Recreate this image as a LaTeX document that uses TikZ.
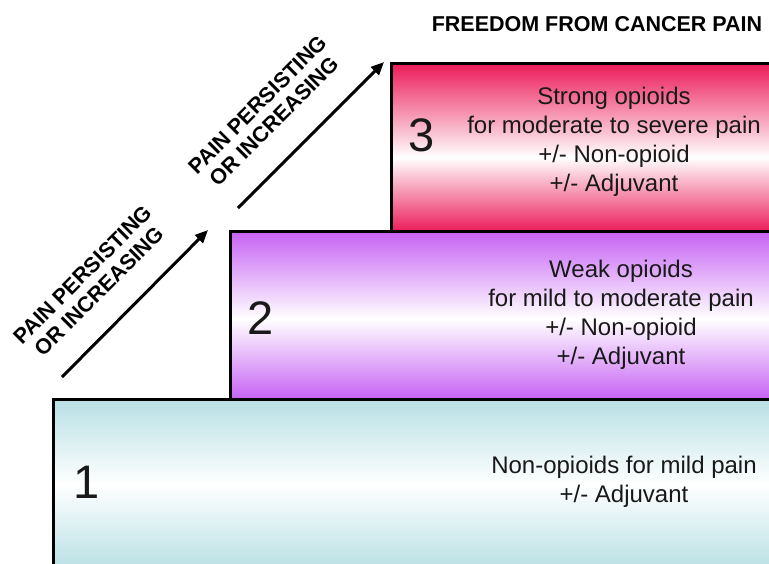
\documentclass[tikz,border=0pt]{standalone}
\usepackage{fontspec}
\setmainfont{Liberation Sans}
\usetikzlibrary{arrows.meta}
\definecolor{pinkc}{RGB}{236,28,90}
\definecolor{purpc}{RGB}{198,98,244}
\definecolor{cyanc}{RGB}{184,224,228}
\pgfdeclareverticalshading{pinkshade}{100bp}{color(0bp)=(pinkc); color(25bp)=(pinkc); color(47bp)=(white); color(75bp)=(pinkc); color(100bp)=(pinkc)}
\pgfdeclareverticalshading{purpshade}{100bp}{color(0bp)=(purpc); color(25bp)=(purpc); color(49bp)=(white); color(75bp)=(purpc); color(100bp)=(purpc)}
\pgfdeclareverticalshading{cyanshade}{100bp}{color(0bp)=(cyanc); color(25bp)=(cyanc); color(50bp)=(white); color(75bp)=(cyanc); color(100bp)=(cyanc)}
\tikzset{
  stepbox/.style={rectangle, draw=black, line width=3pt, anchor=north west, inner sep=0pt, minimum width=#1},
  bodytext/.style={align=center, font=\fontsize{24}{29}\selectfont, text=black!90},
  stepnum/.style={font=\fontsize{47}{50}\selectfont, text=black!90},
  sidelabel/.style={align=center, rotate=45, font=\bfseries\fontsize{21.5}{23.5}\selectfont, inner sep=0pt},
  uparrow/.style={line width=3pt, -{Triangle[length=13pt,width=11pt]}}
}
\begin{document}
\begin{tikzpicture}[x=1pt,y=-1pt]
\clip (0,0) rectangle (769,563);
\fill[white] (0,0) rectangle (769,563);
% steps
\node[stepbox=400pt, minimum height=168pt, shading=pinkshade] (s3) at (390,62) {};
\node[stepbox=560pt, minimum height=168pt, shading=purpshade] (s2) at (229,230) {};
\node[stepbox=740pt, minimum height=170pt, shading=cyanshade] (s1) at (52,398) {};
% numbers
\node[stepnum] (n3) at (422,135) {3};
\node[stepnum] (n2) at (261,318) {2};
\node[stepnum] (n1) at (87,482) {1};
% texts
\node[bodytext] (t3) at (614,142) {Strong opioids\\for moderate to severe pain\\+/- Non-opioid\\+/- Adjuvant};
\node[bodytext] (t2) at (621,315) {Weak opioids\\for mild to moderate pain\\+/- Non-opioid\\+/- Adjuvant};
\node[bodytext] (t1) at (624,482) {Non-opioids for mild pain\\+/- Adjuvant};
% title
\node[font=\bfseries\fontsize{21.5}{24}\selectfont] (title) at (597,24) {FREEDOM FROM CANCER PAIN};
% arrows
\coordinate (a1s) at (62,377);
\coordinate (a1e) at (208,230);
\coordinate (a2s) at (238,208);
\coordinate (a2e) at (384,62);
\draw[uparrow] (a1s) -- (a1e);
\draw[uparrow] (a2s) -- (a2e);
% labels
\node[sidelabel] (l1) at (91,283) {PAIN PERSISTING\\OR INCREASING};
\node[sidelabel] (l2) at (266,113) {PAIN PERSISTING\\OR INCREASING};
\end{tikzpicture}
\end{document}
